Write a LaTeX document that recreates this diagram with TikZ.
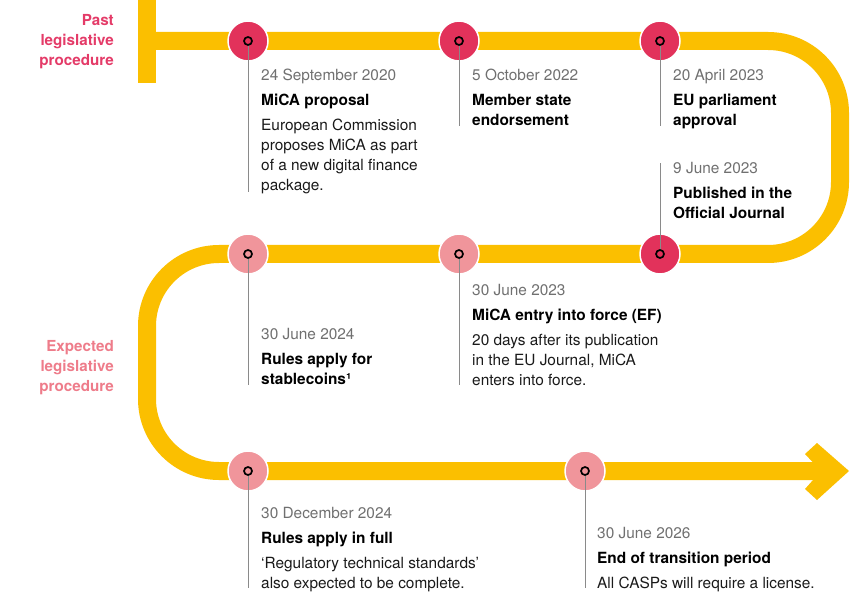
\documentclass[tikz,border=0pt]{standalone}
\usepackage{fontspec}
\setmainfont{TeX Gyre Heros}
\definecolor{trackyellow}{HTML}{FBBF00}
\definecolor{dotdark}{HTML}{E2325B}
\definecolor{dotlight}{HTML}{F0959B}
\definecolor{pastpink}{HTML}{E43B68}
\definecolor{exppink}{HTML}{EE7C8A}
\definecolor{dategrey}{HTML}{707070}
\definecolor{bodyblack}{HTML}{1A1A1A}
\definecolor{linegrey}{HTML}{8A8A8A}
\tikzset{
  track/.style={draw=trackyellow, line width=18pt, line cap=butt, rounded corners=72pt},
  dotbase/.style={circle, minimum size=40pt, inner sep=0, draw=white, line width=1.5pt},
  darkdot/.style={dotbase, fill=dotdark},
  lightdot/.style={dotbase, fill=dotlight},
  ring/.style={draw=black, line width=1.7pt},
  greyline/.style={draw=linegrey, line width=0.9pt},
  datetxt/.style={anchor=base west, inner sep=0, text=dategrey, font=\fontsize{15.4}{15.4}\selectfont},
  ttltxt/.style={anchor=base west, inner sep=0, text=black, font=\fontsize{15.4}{15.4}\selectfont\bfseries},
  bodytxt/.style={anchor=base west, inner sep=0, text=bodyblack, font=\fontsize{15.4}{15.4}\selectfont},
  sidelbl/.style={anchor=base east, inner sep=0, font=\fontsize{15.2}{15.2}\selectfont\bfseries},
}
\begin{document}
\begin{tikzpicture}[x=1pt, y=-1pt]
\useasboundingbox (0,0) rectangle (850,593);
% track
\draw[track] (147,0) -- (147,83);
\draw[track] (147,41) -- (840,41) -- (840,254) -- (147,254) -- (147,471) -- (821,471);
\fill[trackyellow] (805,454) -- (817,443) -- (849,471) -- (817,500) -- (805,489) -- (821,471) -- cycle;
% dots
\node[darkdot] (c1) at (248,41) {};
\node[darkdot] (c2) at (459,41) {};
\node[darkdot] (c3) at (660,41) {};
\node[darkdot] (c4) at (660,254) {};
\node[lightdot] (c5) at (459,254) {};
\node[lightdot] (c6) at (248,254) {};
\node[lightdot] (c7) at (248,471) {};
\node[lightdot] (c8) at (585,471) {};
% line ends
\coordinate (e1) at (248,192);
\coordinate (e2) at (459,126);
\coordinate (e3) at (660,126);
\coordinate (e4) at (660,163);
\coordinate (e5) at (459,385);
\coordinate (e6) at (248,385);
\coordinate (e7) at (248,588);
\coordinate (e8) at (585,588);
\draw[greyline] (c1.center) -- (e1);
\draw[greyline] (c2.center) -- (e2);
\draw[greyline] (c3.center) -- (e3);
\draw[greyline] (c4.center) -- (e4);
\draw[greyline] (c5.center) -- (e5);
\draw[greyline] (c6.center) -- (e6);
\draw[greyline] (c7.center) -- (e7);
\draw[greyline] (c8.center) -- (e8);
% rings
\foreach \c in {c1,c2,c3,c4} \filldraw[ring, fill=dotdark] (\c) circle (4pt);
\foreach \c in {c5,c6,c7,c8} \filldraw[ring, fill=dotlight] (\c) circle (4pt);
% side labels
\node[sidelbl, text=pastpink] (p1) at (114,26) {Past};
\node[sidelbl, text=pastpink] (p2) at (114,46) {legislative};
\node[sidelbl, text=pastpink] (p3) at (114,66) {procedure};
\node[sidelbl, text=exppink] (x1) at (114,351) {Expected};
\node[sidelbl, text=exppink] (x2) at (114,371) {legislative};
\node[sidelbl, text=exppink] (x3) at (114,391) {procedure};
% event 1
\node[datetxt] (d1) at (261,81) {24 September 2020};
\node[ttltxt] (t1) at (261,106) {MiCA proposal};
\node[bodytxt] (b1a) at (261,131) {European Commission};
\node[bodytxt] (b1b) at (261,151) {proposes MiCA as part};
\node[bodytxt] (b1c) at (261,171) {of a new digital finance};
\node[bodytxt] (b1d) at (261,191) {package.};
% event 2
\node[datetxt] (d2) at (472,81) {5 October 2022};
\node[ttltxt] (t2a) at (472,106) {Member state};
\node[ttltxt] (t2b) at (472,126) {endorsement};
% event 3
\node[datetxt] (d3) at (673,81) {20 April 2023};
\node[ttltxt] (t3a) at (673,106) {EU parliament};
\node[ttltxt] (t3b) at (673,126) {approval};
% event 4
\node[datetxt] (d4) at (673,174) {9 June 2023};
\node[ttltxt] (t4a) at (673,199) {Published in the};
\node[ttltxt] (t4b) at (673,219) {Official Journal};
% event 5
\node[datetxt] (d5) at (472,295) {30 June 2023};
\node[ttltxt] (t5) at (472,320) {MiCA entry into force (EF)};
\node[bodytxt] (b5a) at (472,345) {20 days after its publication};
\node[bodytxt] (b5b) at (472,365) {in the EU Journal, MiCA};
\node[bodytxt] (b5c) at (472,385) {enters into force.};
% event 6
\node[datetxt] (d6) at (261,339) {30 June 2024};
\node[ttltxt] (t6a) at (261,364) {Rules apply for};
\node[ttltxt] (t6b) at (261,384) {stablecoins¹};
% event 7
\node[datetxt] (d7) at (261,518) {30 December 2024};
\node[ttltxt] (t7) at (261,543) {Rules apply in full};
\node[bodytxt] (b7a) at (261,568) {‘Regulatory technical standards’};
\node[bodytxt] (b7b) at (261,588) {also expected to be complete.};
% event 8
\node[datetxt] (d8) at (597,538) {30 June 2026};
\node[ttltxt] (t8) at (597,563) {End of transition period};
\node[bodytxt] (b8) at (597,588) {All CASPs will require a license.};
\end{tikzpicture}
\end{document}
